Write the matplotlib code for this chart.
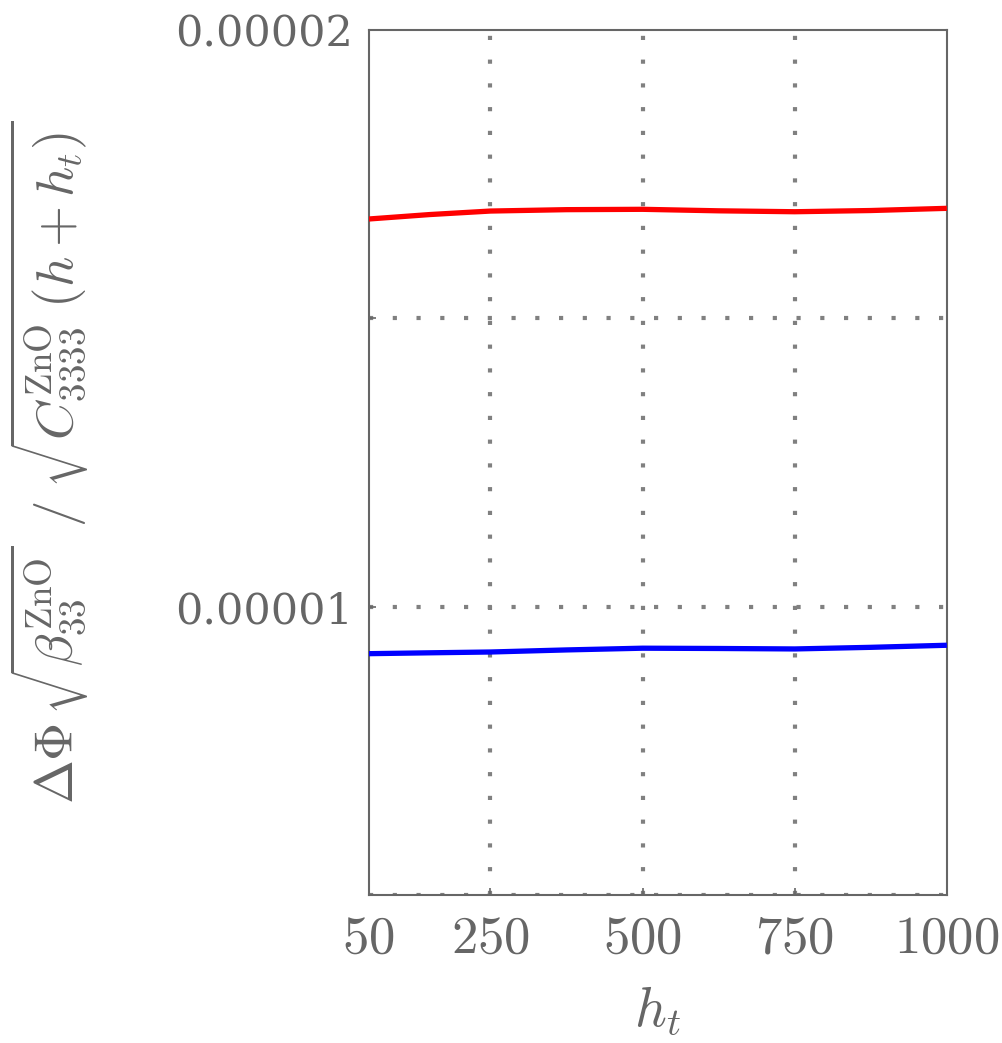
import matplotlib
matplotlib.use("Agg")
import matplotlib.pyplot as plt
from matplotlib.ticker import FixedLocator, FixedFormatter

plt.rcParams["mathtext.fontset"] = "cm"

# data
ht = [50, 150, 250, 375, 500, 625, 750, 875, 1000]
red_vals = [1.6723e-5, 1.6800e-5, 1.6861e-5, 1.6885e-5, 1.6891e-5,
            1.6865e-5, 1.6849e-5, 1.6870e-5, 1.6908e-5]
blue_vals = [9.185e-6, 9.200e-6, 9.214e-6, 9.250e-6, 9.280e-6,
             9.275e-6, 9.267e-6, 9.295e-6, 9.331e-6]

x_ticks = [50, 250, 500, 750, 1000]
x_ticklabels = ["$50$", "$250$", "$500$", "$750$", "$1000$"]
y_ticks = [1e-5, 2e-5]
y_ticklabels = ["0.00001", "0.00002"]
y_minor = [1.5e-5]
x_grid = [250, 500, 750]
y_grid = [5e-6, 1e-5, 1.5e-5]

grey = "#666666"

fig = plt.figure(figsize=(10.02, 10.43), dpi=100)
ax = fig.add_axes([0.368, 0.1419, 0.577, 0.8293])

ax.plot(ht, red_vals, color="#ff0000", linewidth=3.8, solid_capstyle="butt", zorder=3)
ax.plot(ht, blue_vals, color="#0000ff", linewidth=3.8, solid_capstyle="butt", zorder=3)

ax.set_xlim(50, 1000)
ax.set_ylim(5e-6, 2e-5)

# dotted grid
for gx in x_grid:
    ax.axvline(gx, color="#808080", linestyle=(0, (1, 4.7)), linewidth=3, zorder=1)
for gy in y_grid:
    ax.axhline(gy, color="#808080", linestyle=(0, (1, 4.7)), linewidth=3, zorder=1)

for s in ax.spines.values():
    s.set_color(grey)
    s.set_linewidth(1.5)

ax.xaxis.set_major_locator(FixedLocator(x_ticks))
ax.xaxis.set_major_formatter(FixedFormatter(x_ticklabels))
ax.yaxis.set_major_locator(FixedLocator(y_ticks))
ax.yaxis.set_major_formatter(FixedFormatter(y_ticklabels))
ax.yaxis.set_minor_locator(FixedLocator(y_minor))

ax.tick_params(axis="x", direction="in", length=5, width=1.2, color=grey,
               labelcolor=grey, labelsize=38, pad=12)
ax.tick_params(axis="y", direction="in", length=5, width=1.2, color=grey,
               labelcolor=grey, labelsize=31, pad=11)
ax.tick_params(axis="y", which="minor", direction="in", length=5, width=1.2, color=grey)
for lab in ax.get_yticklabels():
    lab.set_fontfamily("DejaVu Serif")

ax.set_xlabel("$h_t$", fontsize=40, color=grey, labelpad=14)
ax.set_ylabel(r"$\Delta\Phi\,\sqrt{\beta_{33}^{\mathrm{ZnO}}}\;\,/\;\sqrt{C_{3333}^{\mathrm{ZnO}}\;(h+h_t)}$",
              fontsize=38, color=grey)
ax.yaxis.set_label_coords(-0.48, 0.5)

fig.savefig("out.png", dpi=100)
